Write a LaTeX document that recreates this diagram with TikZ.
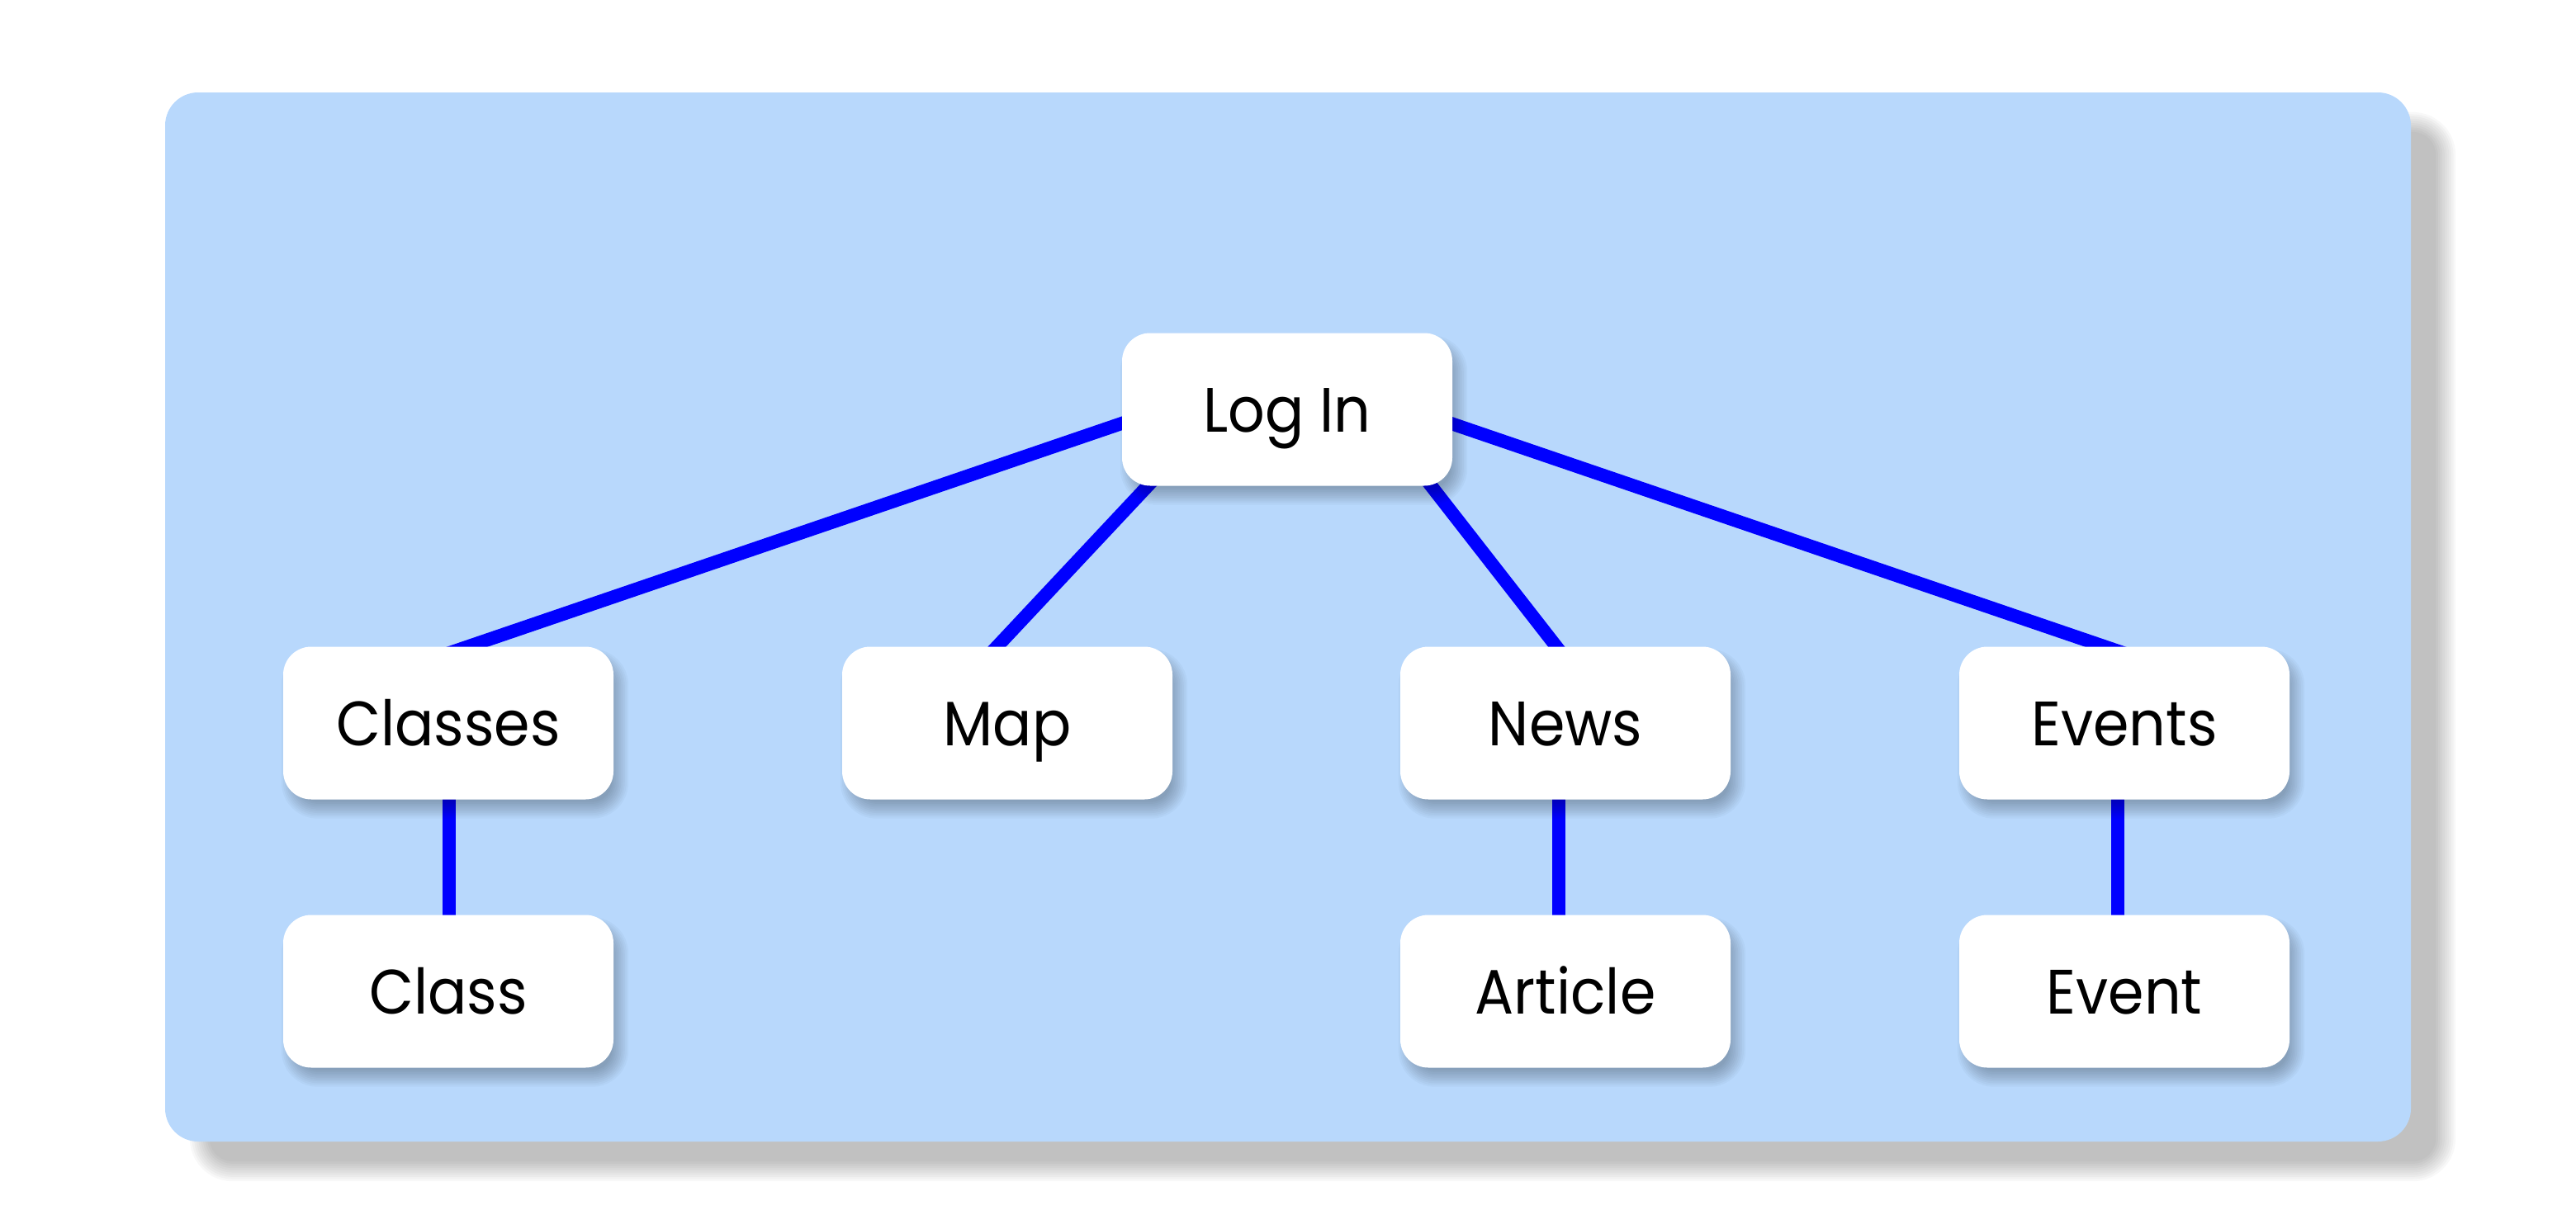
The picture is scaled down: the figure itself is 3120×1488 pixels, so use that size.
\documentclass[tikz,border=0pt]{standalone}
\usepackage{fontspec}
\setmainfont[FakeStretch=0.92]{Poppins}
\usetikzlibrary{calc}
\definecolor{panelblue}{HTML}{B8D8FC}
\definecolor{linkblue}{HTML}{0000FF}
\pgfdeclarelayer{panelshadow}
\pgfdeclarelayer{panel}
\pgfdeclarelayer{links}
\pgfdeclarelayer{nodeshadow}
\pgfsetlayers{panelshadow,panel,links,nodeshadow,main}
\newcommand{\mysoftshadow}[5]{% node, dx, dy, corner radius, blur
  \foreach \k in {-9,-7,...,9}{%
    \pgfmathsetmacro{\kk}{\k*#5/9}%
    \pgfmathsetmacro{\rr}{#4+\kk}%
    \fill[black, fill opacity=0.0284, rounded corners=\rr pt]
      ($(#1.south west)+(#2-\kk,#3+\kk)$) rectangle ($(#1.north east)+(#2+\kk,#3-\kk)$);
  }}
\begin{document}
\begin{tikzpicture}[x=1pt,y=-1pt,
  box/.style={rectangle, rounded corners=34pt, fill=white,
    minimum width=400pt, minimum height=185pt, inner sep=0pt,
    text height=55pt, text depth=0pt,
    font=\fontsize{76}{90}\selectfont},
  panelbox/.style={rectangle, rounded corners=40pt, fill=panelblue,
    minimum width=2720pt, minimum height=1271pt, inner sep=0pt},
  link/.style={draw=linkblue, line width=16pt}]
\useasboundingbox (0,0) rectangle (3120,1488);
\begin{pgfonlayer}{panel}
\node[panelbox] (panel) at (1560,747.5) {};
\end{pgfonlayer}
\begin{pgfonlayer}{panelshadow}
\mysoftshadow{panel}{42}{36}{40}{12}
\end{pgfonlayer}
\node[box] (login) at (1559,496) {Log In};
\node[box] (classes) at (543,876) {Classes};
\node[box] (map) at (1220,876) {Map};
\node[box] (news) at (1896,876) {News};
\node[box] (events) at (2573,876) {Events};
\node[box] (class) at (543,1201) {Class};
\node[box] (article) at (1896,1201) {Article};
\node[box] (event) at (2573,1201) {Event};
\begin{pgfonlayer}{nodeshadow}
\foreach \n in {login,classes,map,news,events,class,article,event}{
  \mysoftshadow{\n}{8}{13}{34}{10}
}
\end{pgfonlayer}
\begin{pgfonlayer}{links}
\draw[link] ($(classes.center)+(-25,-76)$) -- ($(login.center)+(-139,-4)$);
\draw[link] ($(map.center)+(-28,-76)$) -- ($(login.center)+(-142,64)$);
\draw[link] ($(news.center)+(2,-76)$) -- ($(login.center)+(152,64)$);
\draw[link] ($(events.center)+(25,-76)$) -- ($(login.center)+(137,-4)$);
\draw[link] ($(classes.center)+(1,0)$) -- ($(class.center)+(1,0)$);
\draw[link] ($(news.center)+(-8,0)$) -- ($(article.center)+(-8,0)$);
\draw[link] ($(events.center)+(-8,0)$) -- ($(event.center)+(-8,0)$);
\end{pgfonlayer}
\end{tikzpicture}
\end{document}
